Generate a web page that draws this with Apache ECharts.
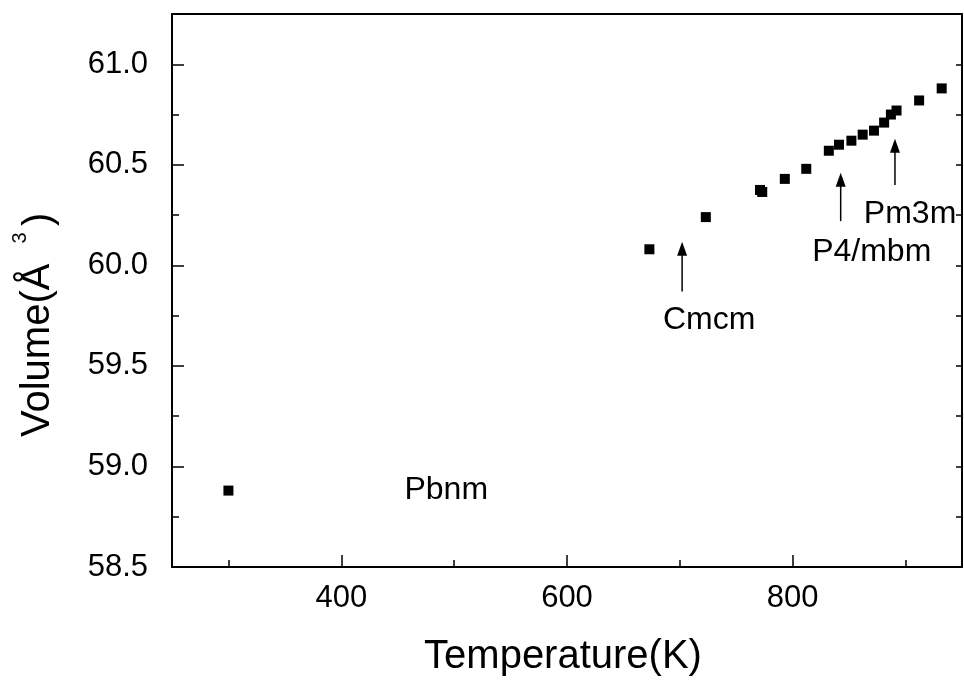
<!DOCTYPE html>
<html><head><meta charset="utf-8">
<script src="https://cdn.jsdelivr.net/npm/echarts@6/dist/echarts.min.js"></script>
<style>html,body{margin:0;padding:0;background:#fff}#c{width:964px;height:681px}</style>
</head><body><div id="c"></div>
<script>
// Data
const temperature = [300, 673, 723, 771, 773, 793, 812, 832, 841, 852, 862, 872, 881, 887, 892, 912, 932];
const volume      = [58.88, 60.08, 60.24, 60.375, 60.365, 60.43, 60.48, 60.57, 60.60, 60.62, 60.65, 60.67, 60.71, 60.75, 60.77, 60.82, 60.88];
const phaseNames  = ['Pbnm', 'Cmcm', 'P4/mbm', 'Pm3m'];
const phaseLabelT = [493, 726, 870, 904];
const phaseLabelV = [58.883, 59.726, 60.067, 60.254];
const arrowT      = [702, 842.5, 890.6];
const arrowFrom   = [59.87, 60.22, 60.40];
const arrowTo     = [60.118, 60.46, 60.63];
const xMajorTicks = [400, 600, 800];
const xMinorTicks = [300, 500, 700, 900];
const yMajorTicks = [58.5, 59.0, 59.5, 60.0, 60.5, 61.0];
const yMinorTicks = [58.75, 59.25, 59.75, 60.25, 60.75];

const FONT = 'Liberation Sans, Arial, sans-serif';
const xMin = 250, xMax = 950, yMin = 58.5, yMax = 61.25;

const chart = echarts.init(document.getElementById('c'), null, {renderer: 'canvas'});
const lineStyle = {color: '#000', width: 2};
const baseX = {type: 'value', min: xMin, max: xMax, splitLine: {show: false}};
const baseY = {type: 'value', min: yMin, max: yMax, splitLine: {show: false}};

chart.setOption({
  animation: false,
  backgroundColor: '#fff',
  grid: {left: 172, top: 14, right: 2, bottom: 114, containLabel: false},
  xAxis: [
    Object.assign({}, baseX, {position: 'bottom',
      axisLine: {show: true, onZero: false, lineStyle: lineStyle},
      axisTick: {show: true, inside: true, length: 12, customValues: xMajorTicks, lineStyle: {color: '#000', width: 1.5}},
      axisLabel: {show: true, customValues: xMajorTicks, margin: 16, color: '#000', fontSize: 31, fontFamily: FONT}}),
    Object.assign({}, baseX, {position: 'bottom',
      axisLine: {show: false},
      axisTick: {show: true, inside: true, length: 7, customValues: xMinorTicks, lineStyle: {color: '#000', width: 1.5}},
      axisLabel: {show: false}}),
    Object.assign({}, baseX, {position: 'top',
      axisLine: {show: true, onZero: false, lineStyle: lineStyle},
      axisTick: {show: false}, axisLabel: {show: false}})
  ],
  yAxis: [
    Object.assign({}, baseY, {position: 'left',
      axisLine: {show: true, onZero: false, lineStyle: lineStyle},
      axisTick: {show: true, inside: true, length: 12, customValues: yMajorTicks, lineStyle: {color: '#000', width: 1.5}},
      axisLabel: {show: true, customValues: yMajorTicks, margin: 24, color: '#000', fontSize: 31, fontFamily: FONT,
        formatter: v => Number(v).toFixed(1)}}),
    Object.assign({}, baseY, {position: 'left',
      axisLine: {show: false},
      axisTick: {show: true, inside: true, length: 7, customValues: yMinorTicks, lineStyle: {color: '#000', width: 1.5}},
      axisLabel: {show: false}}),
    Object.assign({}, baseY, {position: 'right',
      axisLine: {show: true, onZero: false, lineStyle: lineStyle},
      axisTick: {show: true, inside: true, length: 6, customValues: yMajorTicks.concat(yMinorTicks), lineStyle: {color: '#000', width: 1.5}},
      axisLabel: {show: false}})
  ],
  graphic: [
    {type: 'text', x: 563, y: 657,
      style: {text: 'Temperature(K)', fontSize: 40, fontFamily: FONT, fill: '#000', align: 'center', verticalAlign: 'middle'}},
    {type: 'text', x: 38, y: 437, rotation: Math.PI / 2,
      style: {text: 'Volume(Å', fontSize: 40, fontFamily: FONT, fill: '#000', align: 'left', verticalAlign: 'middle'}},
    {type: 'text', x: 20, y: 238, rotation: Math.PI / 2,
      style: {text: '3', fontSize: 20, fontFamily: FONT, fill: '#000', align: 'center', verticalAlign: 'middle'}},
    {type: 'text', x: 40, y: 226, rotation: Math.PI / 2,
      style: {text: ')', fontSize: 40, fontFamily: FONT, fill: '#000', align: 'left', verticalAlign: 'middle'}}
  ],
  series: [
    {type: 'scatter', xAxisIndex: 0, yAxisIndex: 0, symbol: 'rect', symbolSize: 10, silent: true,
      itemStyle: {color: '#000', opacity: 1},
      data: temperature.map((t, i) => [t, volume[i]])},
    {type: 'scatter', xAxisIndex: 0, yAxisIndex: 0, symbolSize: 1, silent: true,
      itemStyle: {color: 'rgba(0,0,0,0)', opacity: 1},
      label: {show: true, position: 'inside', color: '#000', opacity: 1, fontSize: 32, fontFamily: FONT,
        formatter: p => p.name},
      data: phaseNames.map((n, i) => ({name: n, value: [phaseLabelT[i], phaseLabelV[i]]}))},
    {type: 'custom', xAxisIndex: 0, yAxisIndex: 0, silent: true,
      data: arrowT.map((t, i) => [t, arrowFrom[i], arrowTo[i]]),
      renderItem: function (params, api) {
        const p0 = api.coord([api.value(0), api.value(1)]);
        const p1 = api.coord([api.value(0), api.value(2)]);
        const headLen = 14, headW = 5;
        return {type: 'group', children: [
          {type: 'line', shape: {x1: p0[0], y1: p0[1], x2: p1[0], y2: p1[1] + headLen - 2},
            style: {stroke: '#000', lineWidth: 1.5}},
          {type: 'polygon', shape: {points: [[p1[0], p1[1]], [p1[0] - headW, p1[1] + headLen], [p1[0] + headW, p1[1] + headLen]]},
            style: {fill: '#000'}}
        ]};
      }}
  ]
});
</script></body></html>
